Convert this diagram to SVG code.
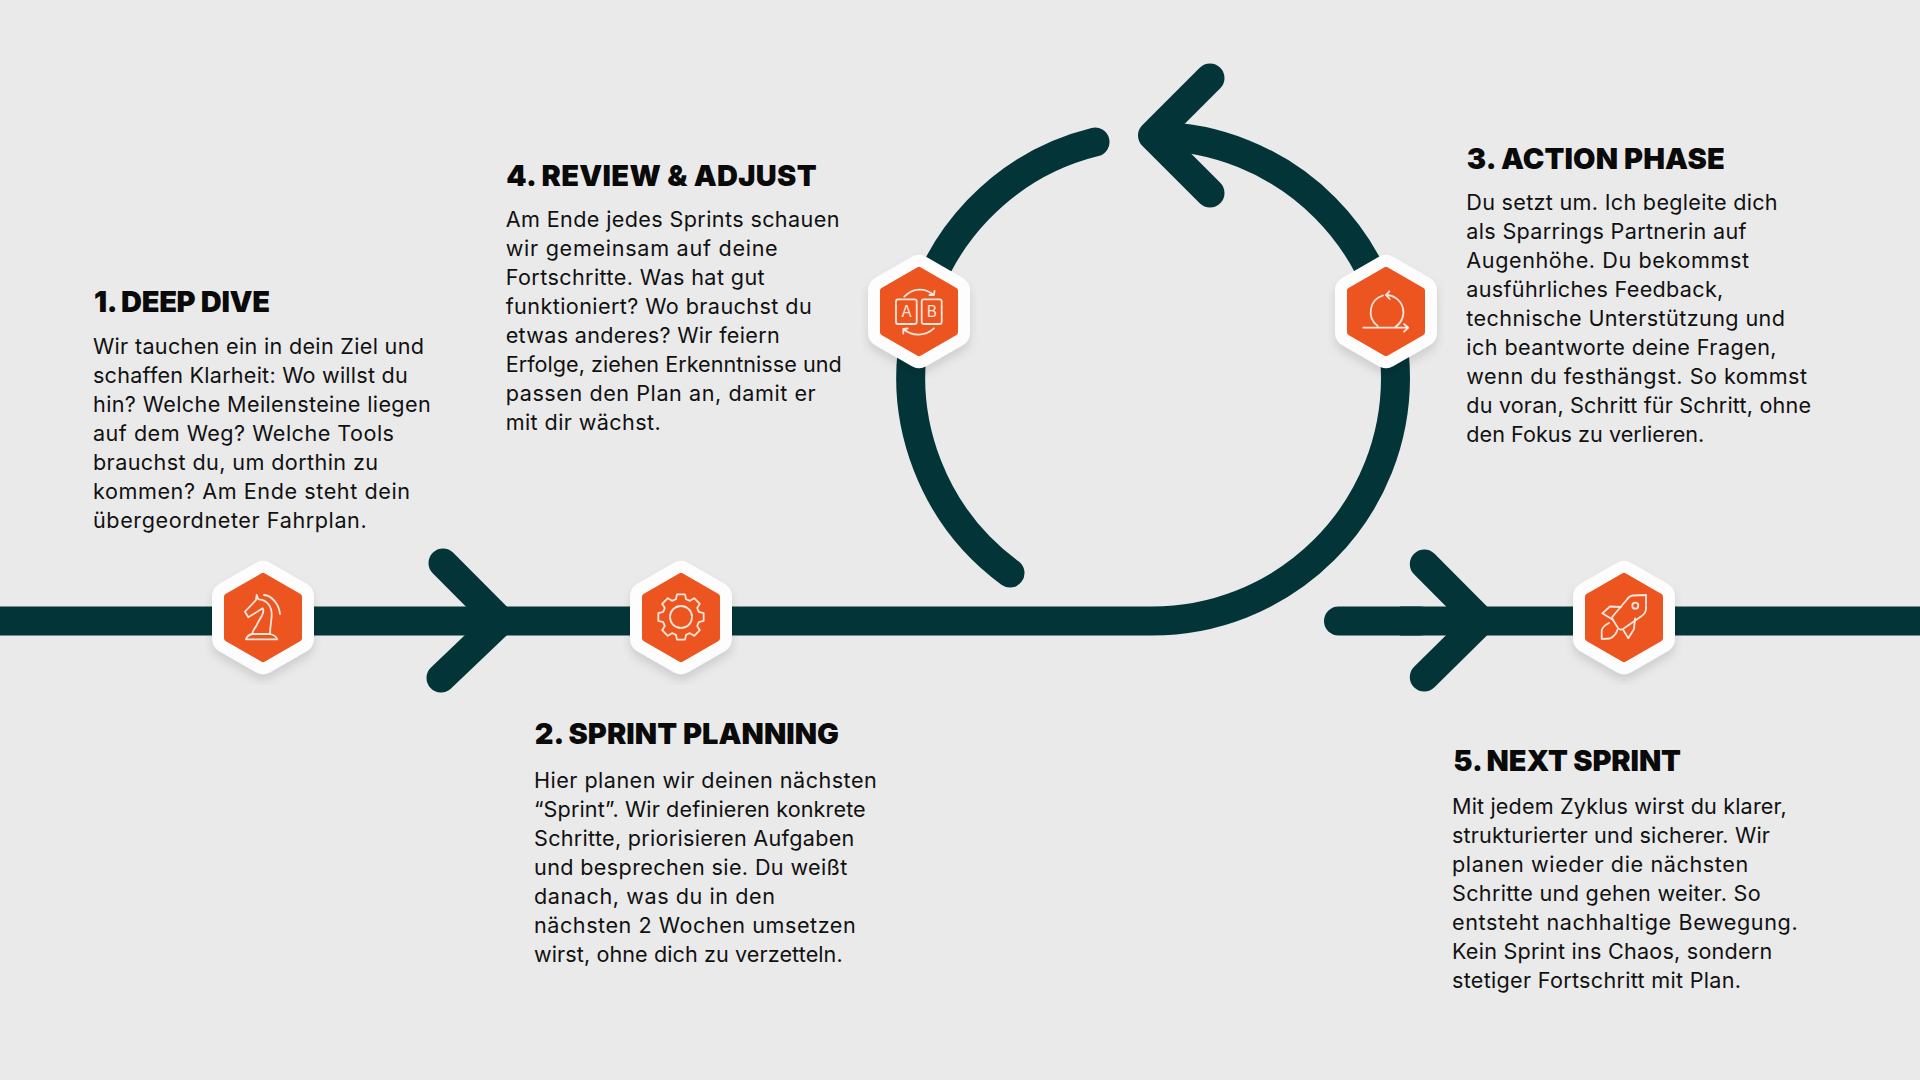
<svg xmlns="http://www.w3.org/2000/svg" width="1920" height="1080" viewBox="0 0 1920 1080">
<style>
.conn{fill:none;stroke:#033538;stroke-width:29;stroke-linecap:round;stroke-linejoin:round}
.hw{fill:#fdfdfe;stroke:#fdfdfe;stroke-width:30;stroke-linejoin:round;filter:url(#sh)}
.ho{fill:#ec5420;stroke:#ec5420;stroke-width:6;stroke-linejoin:round}
.ic{fill:none;stroke:#f8e6dc;stroke-width:1.8;stroke-linecap:round;stroke-linejoin:round}
.il{font-family:"Inter","Liberation Sans",sans-serif;font-size:15.5px;font-weight:400;fill:#f8e6dc;text-anchor:middle}
.h{font-family:"Inter","Liberation Sans",sans-serif;font-size:29px;font-weight:900;fill:#0a0a0a}
.b{font-family:"Inter","Liberation Sans",sans-serif;font-size:21.6px;font-weight:400;fill:#111}
</style>
<defs>
<filter id="sh" x="-30%" y="-30%" width="160%" height="160%"><feDropShadow dx="0" dy="6" stdDeviation="5" flood-color="#000" flood-opacity="0.12"/></filter>
<g id="hex"><polygon class="hw" points="0,-41.6 36,-20.8 36,20.8 0,41.6 -36,20.8 -36,-20.8"/><polygon class="ho" points="0,-41.6 36,-20.8 36,20.8 0,41.6 -36,20.8 -36,-20.8"/></g>
</defs>
<rect width="1920" height="1080" fill="#eaeaea"/>
<g id="connectors">
<path class="conn" style="stroke-linecap:butt" d="M0 621H1152A243.5 243 0 0 0 1395.5 378A243.5 242 0 0 0 1155 136"/>
<path class="conn" d="M1095 142A242.5 242.5 0 0 0 1010 573"/>
<path class="conn" style="stroke-linecap:butt" d="M1400 621H1920"/>
<path class="conn" d="M1338.5 621H1420"/>
<path class="conn" d="M443 563L500.7 621L441 678"/>
<path class="conn" d="M1424.3 564L1481 621L1424.3 677"/>
<path class="conn" d="M1210 78L1152.5 135.5L1210 193"/>
</g>
<g id="node1">
<use href="#hex" x="263" y="617.5"/>
<g class="ic" transform="translate(263 617.5)">
<path d="M-6.3 -22.5L-4.7 -18.2C4 -18 8.7 -11 8.7 -3C8.7 3 7 9 7 16.5M-6.3 -22.5L-7 -17.5L-18 -5.8L-14.7 -0.2L-0.3 -9.2C1 -7 0.5 -5 -1 -2C-3 2 -5 4 -6.5 8C-8 11 -10.7 13 -10.7 16.5"/>
<path d="M-10.7 16.5H7C9 17 13 18 14.3 21.8H-17C-16 18 -13 17 -10.7 16.5Z"/>
<path d="M1 -22.5C9 -22 16 -13 17 -3.5"/>
</g>
<text class="h" x="94" y="311.7" textLength="176">1. DEEP DIVE</text>
<text class="b" x="93" y="354" textLength="331">Wir tauchen ein in dein Ziel und</text>
<text class="b" x="93" y="383" textLength="314.7">schaffen Klarheit: Wo willst du</text>
<text class="b" x="93" y="412" textLength="337.7">hin? Welche Meilensteine liegen</text>
<text class="b" x="93" y="441" textLength="301">auf dem Weg? Welche Tools</text>
<text class="b" x="93" y="470" textLength="285">brauchst du, um dorthin zu</text>
<text class="b" x="93" y="499" textLength="317">kommen? Am Ende steht dein</text>
<text class="b" x="93" y="528" textLength="273.7">übergeordneter Fahrplan.</text>
</g>
<g id="node2">
<use href="#hex" x="681" y="617.5"/>
<g class="ic" transform="translate(681 617)">
<circle r="11"/>
<polygon points="17.78,-5.1 22.65,-3.99 22.65,3.99 17.78,5.1 16.18,8.97 18.84,13.19 13.19,18.84 8.97,16.18 5.1,17.78 3.99,22.65 -3.99,22.65 -5.1,17.78 -8.97,16.18 -13.19,18.84 -18.84,13.19 -16.18,8.97 -17.78,5.1 -22.65,3.99 -22.65,-3.99 -17.78,-5.1 -16.18,-8.97 -18.84,-13.19 -13.19,-18.84 -8.97,-16.18 -5.1,-17.78 -3.99,-22.65 3.99,-22.65 5.1,-17.78 8.97,-16.18 13.19,-18.84 18.84,-13.19 16.18,-8.97"/>
</g>
<text class="h" x="534.7" y="744.3" textLength="304.3">2. SPRINT PLANNING</text>
<text class="b" x="534" y="788.3" textLength="342.7">Hier planen wir deinen nächsten</text>
<text class="b" x="534" y="817.3" textLength="331.7">“Sprint”. Wir definieren konkrete</text>
<text class="b" x="534" y="846.3" textLength="320.3">Schritte, priorisieren Aufgaben</text>
<text class="b" x="534" y="875.3" textLength="313.3">und besprechen sie. Du weißt</text>
<text class="b" x="534" y="904.3" textLength="241">danach, was du in den</text>
<text class="b" x="534" y="933.3" textLength="321.7">nächsten 2 Wochen umsetzen</text>
<text class="b" x="534" y="962.3" textLength="308.7">wirst, ohne dich zu verzetteln.</text>
</g>
<g id="node3">
<use href="#hex" x="1386" y="311.5"/>
<g class="ic" transform="translate(1386 311.5)">
<path d="M-22.7 16.2H22.3M18 12.5L22.3 16.2L18 20.2"/>
<path d="M-8.3 14.5A17.3 17.3 0 0 1 -3 -16M0 -16.5A17.3 17.3 0 0 1 9.7 15.2"/>
<path d="M3.3 -20.2L0 -16.5L3.7 -12.5"/>
</g>
<text class="h" x="1466.7" y="168.7" textLength="258">3. ACTION PHASE</text>
<text class="b" x="1466.3" y="210" textLength="311.3">Du setzt um. Ich begleite dich</text>
<text class="b" x="1466.3" y="239" textLength="280.3">als Sparrings Partnerin auf</text>
<text class="b" x="1466.3" y="268" textLength="282.7">Augenhöhe. Du bekommst</text>
<text class="b" x="1466.3" y="297" textLength="257">ausführliches Feedback,</text>
<text class="b" x="1466.3" y="326" textLength="318.7">technische Unterstützung und</text>
<text class="b" x="1466.3" y="355" textLength="310.3">ich beantworte deine Fragen,</text>
<text class="b" x="1466.3" y="384" textLength="340.7">wenn du festhängst. So kommst</text>
<text class="b" x="1466.3" y="413" textLength="344.7">du voran, Schritt für Schritt, ohne</text>
<text class="b" x="1466.3" y="442" textLength="238">den Fokus zu verlieren.</text>
</g>
<g id="node4">
<use href="#hex" x="919" y="311.5"/>
<g class="ic" transform="translate(919 311.5)">
<rect x="-23" y="-12.2" width="20.7" height="24.7" rx="2"/>
<rect x="2.7" y="-12.2" width="20" height="24.7" rx="2"/>
<path d="M-14.7 -14.8C-6 -24 6 -24 15 -16.5M15.5 -20.5L15 -16.5L10.5 -16.5"/>
<path d="M15 16.8C6 25 -7 25 -15.7 17.5M-15.7 22L-15.7 17.5L-11.3 17"/>
</g>
<text class="il" x="906.5" y="317">A</text>
<text class="il" x="931.8" y="317">B</text>
<text class="h" x="506.3" y="185.7" textLength="310.3">4. REVIEW &amp; ADJUST</text>
<text class="b" x="505.7" y="227" textLength="333.7">Am Ende jedes Sprints schauen</text>
<text class="b" x="505.7" y="256" textLength="272">wir gemeinsam auf deine</text>
<text class="b" x="505.7" y="285" textLength="259">Fortschritte. Was hat gut</text>
<text class="b" x="505.7" y="314" textLength="306">funktioniert? Wo brauchst du</text>
<text class="b" x="505.7" y="343" textLength="274">etwas anderes? Wir feiern</text>
<text class="b" x="505.7" y="372" textLength="336">Erfolge, ziehen Erkenntnisse und</text>
<text class="b" x="505.7" y="401" textLength="310">passen den Plan an, damit er</text>
<text class="b" x="505.7" y="430" textLength="155">mit dir wächst.</text>
</g>
<g id="node5">
<use href="#hex" x="1624" y="617.5"/>
<g class="ic" transform="translate(1624 617.5)">
<path d="M22 -22.5L9 -22Q5 -21.5 3 -18L-11 -1.5Q-13 0.5 -11 2.5L-6 10.5Q-4 13 -1 11.5L17 -1Q22 -4 22 -9Z"/>
<circle cx="11.3" cy="-11.8" r="3"/>
<path d="M-3 -10.5L-14 -11L-21.7 -4.2L-10.7 2.5"/>
<path d="M11 0.8L10 11.5L4.3 20.8L-0.7 12.5"/>
<path d="M-15 5.5Q-22.3 9 -22.3 14V21.5L-14 21Q-8 18 -6.7 12.5"/>
</g>
<text class="h" x="1453.3" y="770.7" textLength="227.7">5. NEXT SPRINT</text>
<text class="b" x="1452" y="814" textLength="334.7">Mit jedem Zyklus wirst du klarer,</text>
<text class="b" x="1452" y="843" textLength="318">strukturierter und sicherer. Wir</text>
<text class="b" x="1452" y="872" textLength="296.3">planen wieder die nächsten</text>
<text class="b" x="1452" y="901" textLength="308.7">Schritte und gehen weiter. So</text>
<text class="b" x="1452" y="930" textLength="345.7">entsteht nachhaltige Bewegung.</text>
<text class="b" x="1452" y="959" textLength="320.3">Kein Sprint ins Chaos, sondern</text>
<text class="b" x="1452" y="988" textLength="289">stetiger Fortschritt mit Plan.</text>
</g>
</svg>
